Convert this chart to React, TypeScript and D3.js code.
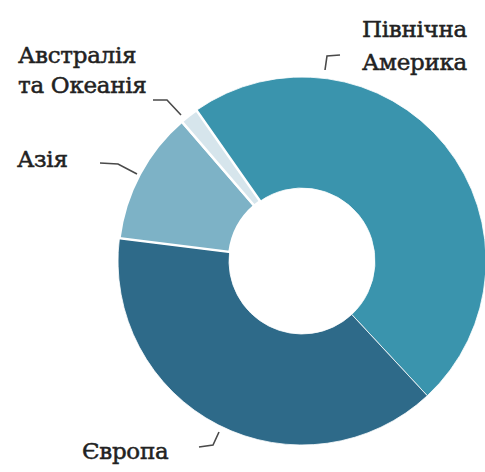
import React from "react";
import * as d3 from "d3";

const regions = ["Північна Америка", "Європа", "Азія", "Австралія та Океанія"];
const shares = [47.8, 38.9, 11.7, 1.6];
const colors = ["#3a94ad", "#2e6a89", "#7db2c6", "#d6e5ec"];
const labelLines = [["Північна", "Америка"], ["Європа"], ["Азія"], ["Австралія", "та Океанія"]];

const W = 485, H = 472;
const cx = 302, cy = 261, R = 184, r0 = 73;
const start = (-35 * Math.PI) / 180;

// label layout: text anchor position, and leader polyline
const labelLayout = [
  { x: 362, y: 37, lh: 33, leader: [[340, 55], [327, 56], [325, 70]] },
  { x: 82, y: 459, lh: 0, leader: [[199, 447], [213, 445], [219, 432]] },
  { x: 17, y: 167, lh: 0, leader: [[100, 163], [118, 164], [137, 174]] },
  { x: 18, y: 63, lh: 30, leader: [[153, 100], [167, 100], [181, 115]] },
];

export default function App() {
  const pie = d3.pie<number>().sort(null).startAngle(start).endAngle(start + 2 * Math.PI);
  const arcs = pie(shares);
  const arc = d3.arc<d3.PieArcDatum<number>>().innerRadius(r0).outerRadius(R);
  const line = d3.line();
  return (
    <svg width={W} height={H} style={{ position: "absolute", left: 0, top: 0, background: "#fff" }}>
      <g transform={`translate(${cx},${cy})`}>
        {arcs.map((a, i) => (
          <path key={regions[i]} d={arc(a) || ""} fill={colors[i]} stroke="#fff" strokeWidth={i >= 2 ? 2.5 : 0.8} />
        ))}
      </g>
      {labelLayout.map((l, i) => (
        <g key={i}>
          <path d={line(l.leader as [number, number][]) || ""} fill="none" stroke="#4a4a4a" strokeWidth={1.6} />
          <text
            x={l.x}
            y={l.y}
            fontFamily="DejaVu Serif"
            fontSize={23}
            fill="#222"
            stroke="#222"
            strokeWidth={0.5}
            letterSpacing={-0.3}
          >
            {labelLines[i].map((t, j) => (
              <tspan key={j} x={l.x} y={l.y + j * l.lh}>
                {t}
              </tspan>
            ))}
          </text>
        </g>
      ))}
    </svg>
  );
}
